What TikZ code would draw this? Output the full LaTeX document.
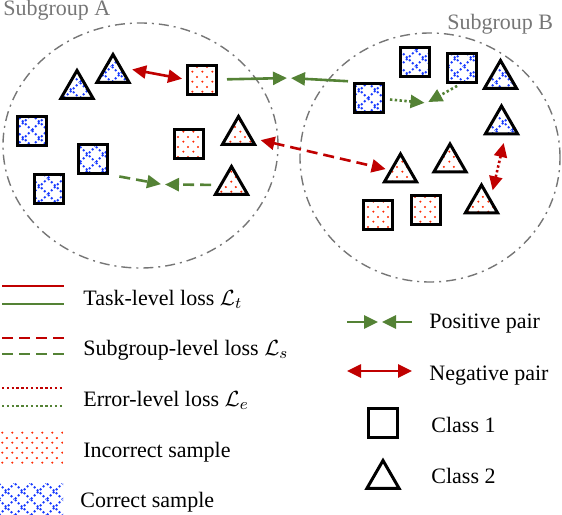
\documentclass[tikz,border=0pt]{standalone}
\usepackage{amsmath}
\usepackage{amssymb}
\usepackage{fontspec}
\setmainfont{Liberation Serif}
\usetikzlibrary{shapes.geometric,arrows.meta,patterns.meta}

\definecolor{negred}{RGB}{192,0,0}
\definecolor{posgreen}{RGB}{84,130,53}
\definecolor{groupgray}{RGB}{118,118,118}
\definecolor{dotred}{RGB}{255,40,0}
\definecolor{hatchblue}{RGB}{25,60,255}

\tikzdeclarepattern{
  name=reddots, type=uncolored,
  bottom left={(0pt,0pt)}, top right={(4.75pt,5pt)}, tile size={(4.75pt,5pt)},
  code={
    \fill (1.2pt,1.25pt) circle [radius=0.6pt];
    \fill (3.575pt,3.75pt) circle [radius=0.6pt];
  }
}
\tikzdeclarepattern{
  name=bluehatch, type=uncolored,
  bottom left={(0pt,0pt)}, top right={(8pt,8pt)}, tile size={(8pt,8pt)},
  code={
    \draw[line width=1pt, dash pattern=on 1pt off 1.2pt] (0pt,0pt) -- (8pt,8pt) (0pt,8pt) -- (8pt,0pt);
  }
}

\tikzset{
  sample/.style={draw=black, line width=1.5pt, inner sep=0pt},
  sq/.style={sample, rectangle, minimum size=14.5pt},
  tri/.style={sample, regular polygon, regular polygon sides=3, minimum size=18.5pt},
  incorrect/.style={pattern=reddots, pattern color=dotred},
  correct/.style={pattern=bluehatch, pattern color=hatchblue},
  group/.style={draw=groupgray, line width=0.7pt, dash pattern=on 5pt off 2.5pt on 1pt off 2.5pt},
  pospair/.style={draw=posgreen, line width=1.3pt, -{Triangle[length=7pt,width=6.5pt]}},
  negpair/.style={draw=negred, line width=1.3pt, {Triangle[length=7pt,width=6.5pt]}-{Triangle[length=7pt,width=6.5pt]}},
  sublvl/.style={dash pattern=on 5.5pt off 3pt},
  errlvl/.style={dash pattern=on 1.2pt off 1.2pt},
  legtext/.style={anchor=base west, inner sep=0pt}
}

\begin{document}
\begin{tikzpicture}[x=0.5pt, y=-0.5pt, font=\fontsize{11}{13}\selectfont]
\useasboundingbox (0,0) rectangle (562,514);

% subgroups
\draw[group] (140.5,145.5) ellipse [x radius=68.75pt, y radius=61.25pt];
\draw[group] (430,157.5) ellipse [x radius=65pt, y radius=62.25pt];
\node[legtext, text=groupgray] (labA) at (3,16) {Subgroup A};
\node[legtext, text=groupgray] (labB) at (447,29) {Subgroup B};

% subgroup A samples
\node[tri, correct] (triA1) at (77,89) {};
\node[tri, correct] (triA2) at (113,73) {};
\node[sq, correct] (sqA1) at (31.5,131) {};
\node[sq, correct] (sqA2) at (92.5,158.5) {};
\node[sq, correct] (sqA4) at (49,188.5) {};
\node[sq, incorrect] (sqA3) at (202,79.5) {};
\node[sq, incorrect] (sqA5) at (188.5,143.5) {};
\node[tri, incorrect] (triA4) at (238.5,135) {};
\node[tri, incorrect] (triA5) at (231.5,185) {};

% subgroup B samples
\node[sq, correct] (sqB1) at (414.5,61.5) {};
\node[sq, correct] (sqB2) at (461.5,67.5) {};
\node[sq, correct] (sqB4) at (369,97.5) {};
\node[tri, correct] (triB3) at (500.5,79) {};
\node[tri, correct] (triB5) at (501.5,124.5) {};
\node[tri, incorrect] (triB1) at (400.5,172.5) {};
\node[tri, incorrect] (triB2) at (450,162.5) {};
\node[tri, incorrect] (triB4) at (481.5,203.5) {};
\node[sq, incorrect] (sqB5) at (378,214.5) {};
\node[sq, incorrect] (sqB6) at (426,210) {};

% pairs
\coordinate (meetAB) at (289,78);
\coordinate (meetA) at (163,184.5);
\coordinate (meetB) at (426.5,103);
\draw[negpair, shorten <=5pt, shorten >=2pt] (triA2.side 3) -- (sqA3.west);
\draw[pospair, shorten <=4.5pt, shorten >=1pt] (sqA3.east) -- (meetAB);
\draw[pospair, shorten <=2.5pt, shorten >=1pt] (sqB4.north west) -- (meetAB);
\draw[negpair, sublvl, shorten <=4pt, shorten >=2pt] (triA4) -- (triB1);
\draw[pospair, sublvl, shorten <=5.5pt, shorten >=1pt] (sqA2.south east) -- (meetA);
\draw[pospair, sublvl, shorten <=4pt, shorten >=1pt] (triA5) -- (meetA);
\draw[pospair, errlvl, shorten <=2.5pt, shorten >=1pt] (sqB4) -- (meetB);
\draw[pospair, errlvl, shorten <=2.5pt, shorten >=1pt] (sqB2.south) -- (meetB);
\draw[negpair, errlvl, shorten <=4pt, shorten >=4pt] ([xshift=2pt]triB5.side 2) -- (triB4.side 3);

% legend, left
\draw[negred, line width=1.3pt] (2,286) -- (64,286);
\draw[posgreen, line width=1.3pt] (2,304) -- (64,304);
\node[legtext] (txtTask) at (83,305) {Task-level loss $\mathcal{L}_t$};
\draw[negred, line width=1.3pt, sublvl] (2,338) -- (64,338);
\draw[posgreen, line width=1.3pt, sublvl] (2,354) -- (64,354);
\node[legtext] (txtSub) at (83,355) {Subgroup-level loss $\mathcal{L}_s$};
\draw[negred, line width=1.3pt, errlvl] (2,388) -- (64,388);
\draw[posgreen, line width=1.3pt, errlvl] (2,406) -- (64,406);
\node[legtext] (txtErr) at (83,406) {Error-level loss $\mathcal{L}_e$};
\fill[incorrect] (0,430) rectangle (63,463);
\node[legtext] (txtInc) at (83,457) {Incorrect sample};
\fill[correct] (0,483) rectangle (63,514);
\node[legtext] (txtCor) at (80,507) {Correct sample};

% legend, right
\coordinate (legPos) at (380,322);
\draw[pospair, shorten >=1pt] (347,322) -- (legPos);
\draw[pospair, shorten >=1pt] (412,322) -- (legPos);
\node[legtext] (txtPos) at (429,328) {Positive pair};
\draw[negpair] (347,371) -- (412,371);
\node[legtext] (txtNeg) at (429,380) {Negative pair};
\node[sq] (legSq) at (383,422.5) {};
\node[legtext] (txtC1) at (431,432) {Class 1};
\node[tri] (legTri) at (383,479) {};
\node[legtext] (txtC2) at (431,483) {Class 2};
\end{tikzpicture}
\end{document}
